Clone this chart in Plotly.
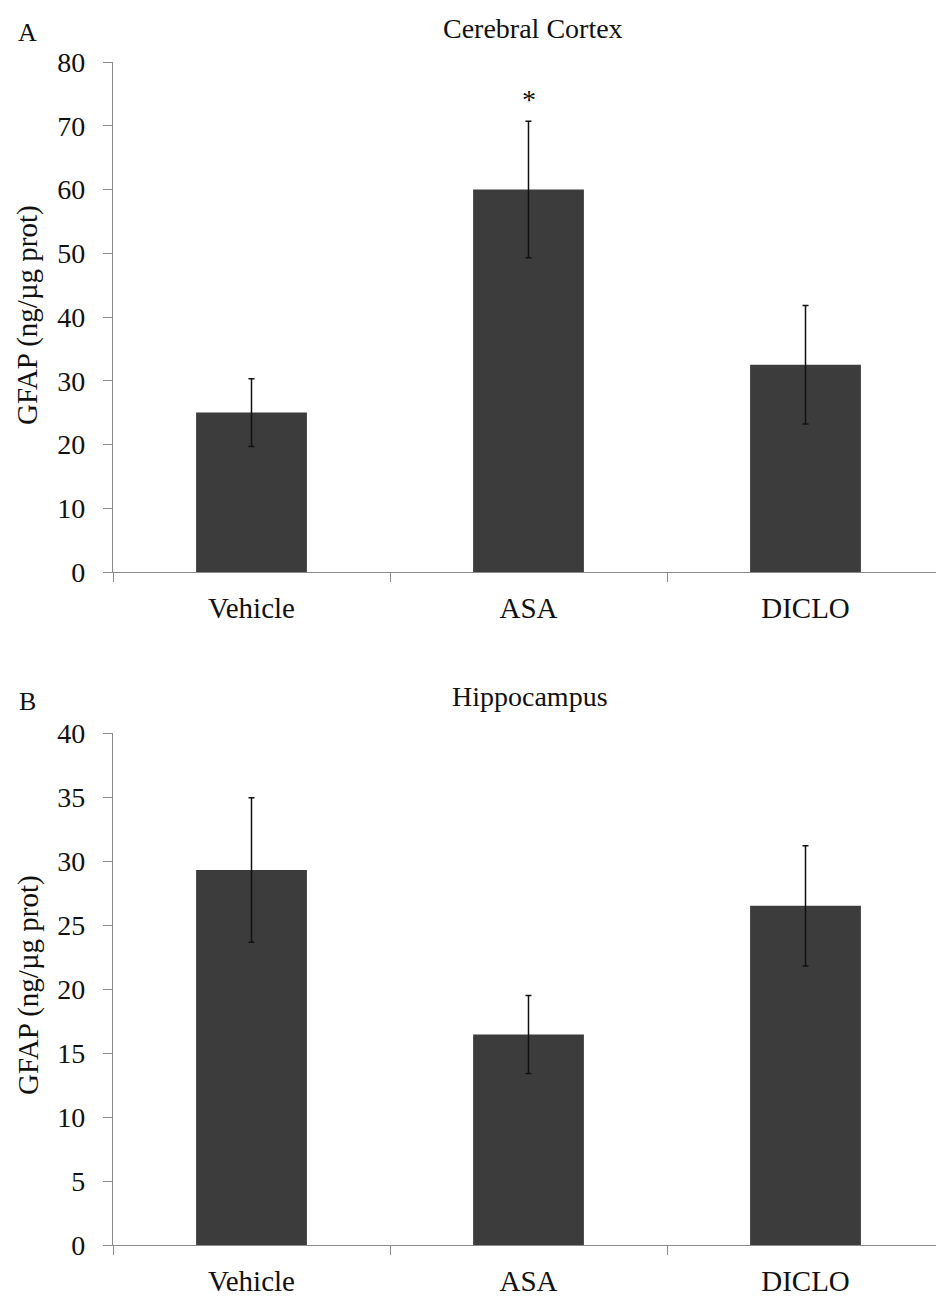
import plotly.graph_objects as go

# GFAP levels (ng/µg protein), mean ± SEM per treatment group
groups = ["Vehicle", "ASA", "DICLO"]

cortex_mean = [25.0, 60.0, 32.5]
cortex_sem = [5.3, 10.7, 9.3]

hippo_mean = [29.3, 16.45, 26.5]
hippo_sem = [5.65, 3.05, 4.7]

cortex_ticks = [0, 10, 20, 30, 40, 50, 60, 70, 80]
hippo_ticks = [0, 5, 10, 15, 20, 25, 30, 35, 40]

# groups marked as significantly different from vehicle
cortex_sig = ["ASA"]

W, H = 936, 1298
FONT = "Liberation Serif, Times New Roman, serif"
BAR = "#3c3c3c"
AXIS = "#8a8a8a"
INK = "#111111"

x0 = 113 / W  # left edge of both plot areas
dom_top = [1 - 572 / H, 1 - 62 / H]
dom_bot = [1 - 1245 / H, 1 - 733 / H]
xrange = [-0.5, (W - 113) / 277 - 0.5]

fig = go.Figure()

fig.add_trace(go.Bar(
    x=groups, y=cortex_mean, width=0.4, marker_color=BAR, marker_line_width=0,
    error_y=dict(type="data", array=cortex_sem, color=INK, thickness=1.5, width=3),
    xaxis="x", yaxis="y", showlegend=False,
))
fig.add_trace(go.Bar(
    x=groups, y=hippo_mean, width=0.4, marker_color=BAR, marker_line_width=0,
    error_y=dict(type="data", array=hippo_sem, color=INK, thickness=1.5, width=3),
    xaxis="x2", yaxis="y2", showlegend=False,
))

xcommon = dict(
    type="category", range=xrange, domain=[x0, 1],
    showline=True, linecolor=AXIS, linewidth=1.2,
    ticks="outside", tickson="boundaries", ticklen=9, tickcolor=AXIS,
    tickfont=dict(family=FONT, size=29, color=INK),
    ticklabelstandoff=10,
    showgrid=False, zeroline=False, automargin=False, fixedrange=True,
)
ycommon = dict(
    showline=True, linecolor=AXIS, linewidth=1.2,
    ticks="outside", ticklen=9, tickcolor=AXIS,
    tickfont=dict(family=FONT, size=28, color=INK),
    ticklabelstandoff=12,
    showgrid=False, zeroline=False, automargin=False, fixedrange=True,
)

fig.update_layout(
    width=W, height=H,
    margin=dict(l=0, r=0, t=0, b=0),
    paper_bgcolor="white", plot_bgcolor="white",
    xaxis=dict(xcommon, anchor="y"),
    yaxis=dict(ycommon, anchor="x", domain=dom_top,
               range=[cortex_ticks[0], cortex_ticks[-1]], tickvals=cortex_ticks),
    xaxis2=dict(xcommon, anchor="y2"),
    yaxis2=dict(ycommon, anchor="x2", domain=dom_bot,
                range=[hippo_ticks[0], hippo_ticks[-1]], tickvals=hippo_ticks),
)


def label(text, xpx, ypx, size, angle=0):
    return dict(text=text, x=xpx / W, y=1 - ypx / H, xref="paper", yref="paper",
                xanchor="center", yanchor="middle", textangle=angle, showarrow=False,
                font=dict(family=FONT, size=size, color=INK))


ann = [
    label("A", 27, 32, 26),
    label("B", 27, 701, 26),
    label("Cerebral Cortex", 533, 29, 28),
    label("Hippocampus", 530, 696, 28),
    label("GFAP (ng/µg prot)", 28, 315, 29, -90),
    label("GFAP (ng/µg prot)", 28, 985, 29, -90),
]
# significance marks above error bars
for g in cortex_sig:
    i = groups.index(g)
    ann.append(dict(text="*", x=g, y=cortex_mean[i] + cortex_sem[i], xref="x", yref="y",
                    yanchor="bottom", yshift=4, showarrow=False,
                    font=dict(family=FONT, size=28, color=INK)))

fig.update_layout(annotations=ann)

fig.write_html("out.html")
